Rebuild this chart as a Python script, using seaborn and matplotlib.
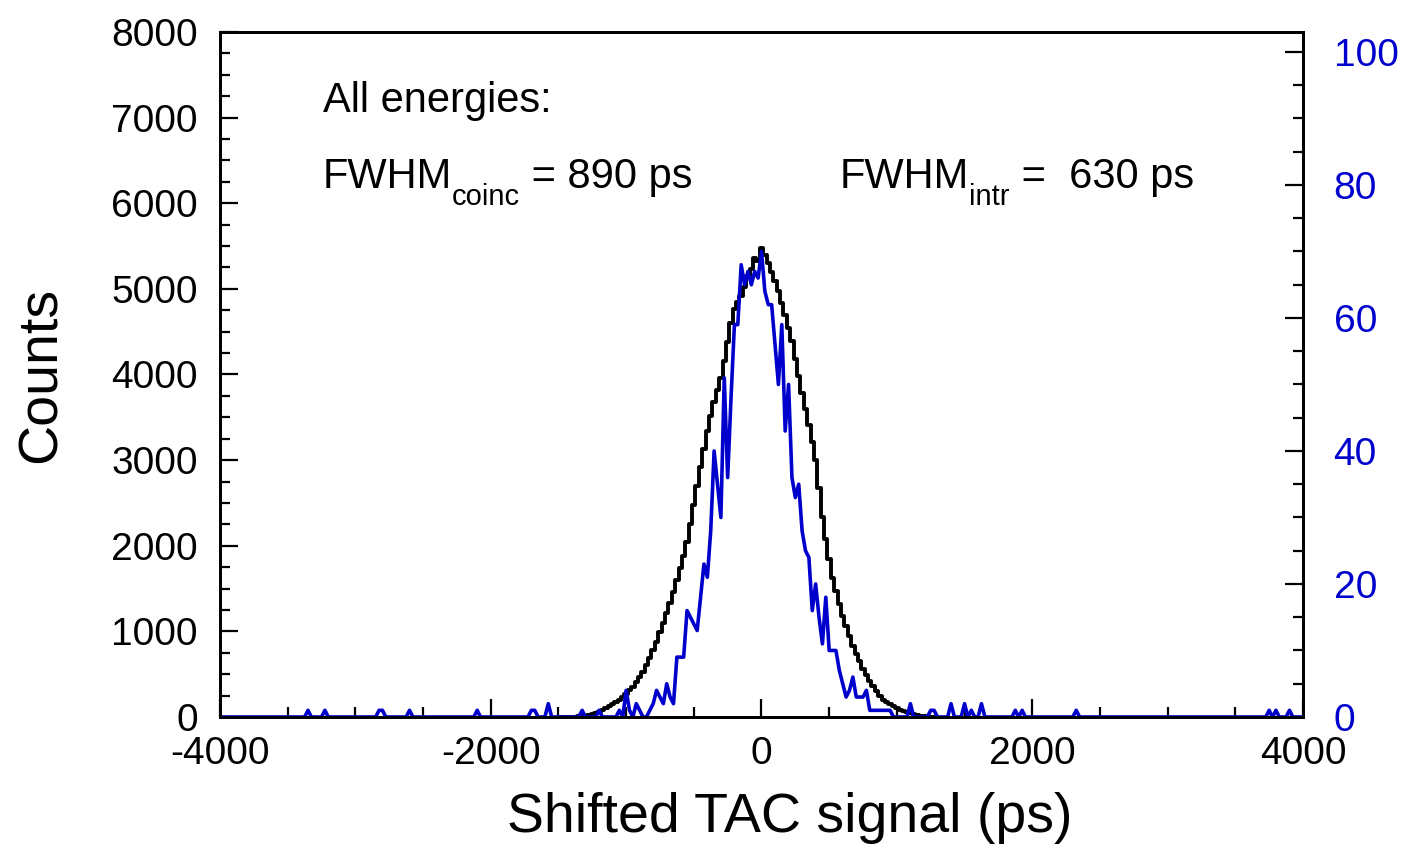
import numpy as np
import pandas as pd
import matplotlib
matplotlib.use("Agg")
import matplotlib.pyplot as plt
import seaborn as sns
from matplotlib.ticker import MultipleLocator
from matplotlib.transforms import offset_copy

# ── data ──────────────────────────────────────────────────────────────────
# black: coincidence TAC spectrum (left axis), 25 ps bins
black_ps = np.arange(-1500, 1301, 25)
black_counts = [
    # -1500 .. -1025
    0, 0, 0, 0, 2, 5, 8, 12, 16, 21, 30, 42, 60, 80, 105, 125, 148, 170, 195, 230,
    # -1000 .. -525
    270, 310, 355, 405, 465, 530, 610, 690, 785, 880,
    990, 1100, 1210, 1330, 1460, 1600, 1740, 1880, 2040, 2250,
    # -500 .. -25
    2480, 2700, 2920, 3130, 3340, 3520, 3680, 3820, 3960, 4160,
    4380, 4600, 4760, 4850, 4920, 5020, 5150, 5230, 5360, 5330,
    # 0
    5480,
    # 25 .. 500
    5390, 5300, 5200, 5090, 4970, 4835, 4700, 4540, 4390, 4180,
    3980, 3780, 3600, 3410, 3210, 3000, 2680, 2330, 2080, 1840,
    # 525 .. 1000
    1620, 1470, 1320, 1180, 1060, 940, 830, 740, 650, 565,
    490, 420, 360, 300, 245, 195, 170, 150, 125, 105,
    # 1025 .. 1300
    85, 70, 57, 45, 33, 23, 15, 10, 6, 4, 2, 0,
]

# blue: intrinsic spectrum (right axis), 25 ps bins
blue_bins = np.arange(-4000, 4001, 25)
blue_core_ps = np.arange(-1000, 1001, 25)
blue_core_counts = [
    4, 1, 0, 2, 1, 0, 0, 1, 2, 4,            # -1000 .. -775
    3, 2, 5, 3, 2, 9, 9, 9, 16, 15,          # -750 .. -525
    14, 13, 18, 23, 21, 28, 40, 35, 30, 51,  # -500 .. -275
    36, 48, 59, 59, 68, 65, 67, 65, 67, 66,  # -250 .. -25
    70,                                      # 0
    64, 62, 62, 56, 50, 59, 43, 50, 36, 33,  # 25 .. 250
    35, 28, 25, 24, 16, 20, 15, 11, 18, 10,  # 275 .. 500
    10, 10, 7, 5, 3, 4, 6, 3, 3, 3,          # 525 .. 750
    4, 1, 1, 1, 1, 1, 1, 1, 0, 0,            # 775 .. 1000
]
blue_tail = {
    -3350: 1, -3225: 1, -2825: 1, -2800: 1, -2600: 1, -2100: 1,
    -1700: 1, -1675: 1, -1575: 2, -1325: 1, -1200: 1, -1050: 1,
    1100: 2, 1250: 1, 1275: 1, 1400: 2, 1500: 2, 1550: 1, 1625: 2,
    1875: 1, 1925: 1, 2325: 1, 3750: 1, 3800: 1, 3900: 1,
}

blue_counts = np.zeros(len(blue_bins))
for p, c in zip(blue_core_ps, blue_core_counts):
    blue_counts[np.searchsorted(blue_bins, p)] = c
for p, c in blue_tail.items():
    blue_counts[np.searchsorted(blue_bins, p)] = c

df_black = pd.DataFrame({"ps": black_ps, "counts": black_counts})
df_blue = pd.DataFrame({"ps": blue_bins, "counts": blue_counts})

# ── styling ───────────────────────────────────────────────────────────────
sns.set_theme(style="ticks")
plt.rcParams["font.family"] = ["Liberation Sans", "DejaVu Sans"]
plt.rcParams["axes.unicode_minus"] = False
plt.rcParams["text.color"] = "black"
plt.rcParams["axes.labelcolor"] = "black"

BLUE = "#0000cc"
TICK_FS = 28
ANNOT_FS = 30

fig = plt.figure(figsize=(14.12, 8.49), dpi=100)
ax = fig.add_axes([0.1558, 0.1555, 0.767, 0.8068])
ax2 = ax.twinx()

sns.lineplot(data=df_black, x="ps", y="counts", ax=ax, color="black",
             lw=2.8, drawstyle="steps-mid", sort=True)
sns.lineplot(data=df_blue, x="ps", y="counts", ax=ax2, color=BLUE,
             lw=2.6, sort=True)

ax.set_xlim(-4000, 4000)
ax.set_ylim(0, 8000)
ax2.set_ylim(0, 103)

ax.xaxis.set_major_locator(MultipleLocator(2000))
ax.xaxis.set_minor_locator(MultipleLocator(500))
ax.yaxis.set_major_locator(MultipleLocator(1000))
ax.yaxis.set_minor_locator(MultipleLocator(250))
ax2.yaxis.set_major_locator(MultipleLocator(20))
ax2.yaxis.set_minor_locator(MultipleLocator(5))

for a in (ax, ax2):
    for s in a.spines.values():
        s.set_linewidth(2.0)
        s.set_color("black")

ax.tick_params(axis="both", which="both", direction="in", width=1.6,
               labelsize=TICK_FS, colors="black")
ax.tick_params(axis="both", which="major", length=13)
ax.tick_params(axis="both", which="minor", length=7)
ax.tick_params(axis="x", pad=14)
ax.tick_params(axis="y", pad=16)
ax.tick_params(top=False, right=False)

ax2.tick_params(axis="y", which="both", direction="in", width=1.6,
                labelsize=TICK_FS, labelcolor=BLUE, color="black", pad=22)
ax2.tick_params(axis="y", which="major", length=13)
ax2.tick_params(axis="y", which="minor", length=7)

ax.set_xlabel("Shifted TAC signal (ps)", fontsize=40)
ax.xaxis.set_label_coords(0.526, -0.11)
ax.set_ylabel("Counts", fontsize=40)
ax.yaxis.set_label_coords(-0.141, 0.5)
ax2.set_ylabel("")

# annotations
ax.text(-3240, 7070, "All energies:", fontsize=ANNOT_FS, va="baseline", ha="left")


def text_pieces(x, y, pieces):
    """Place text pieces one after another; each piece is (text, size, dy_pt)."""
    fig.canvas.draw()
    renderer = fig.canvas.get_renderer()
    dx = 0.0
    for txt, size, dy in pieces:
        tr = offset_copy(ax.transData, fig=fig, x=dx, y=dy, units="points")
        t = ax.text(x, y, txt, fontsize=size, va="baseline", ha="left",
                    transform=tr)
        bb = t.get_window_extent(renderer=renderer)
        dx += bb.width * 72.0 / fig.dpi


text_pieces(-3240, 6180, [("FWHM", ANNOT_FS, 0), ("coinc", 21, -12),
                          (" = 890 ps", ANNOT_FS, 0)])
text_pieces(580, 6180, [("FWHM", ANNOT_FS, 0), ("intr", 21, -12),
                        (" =  630 ps", ANNOT_FS, 0)])

fig.savefig("out.png", dpi=100)
